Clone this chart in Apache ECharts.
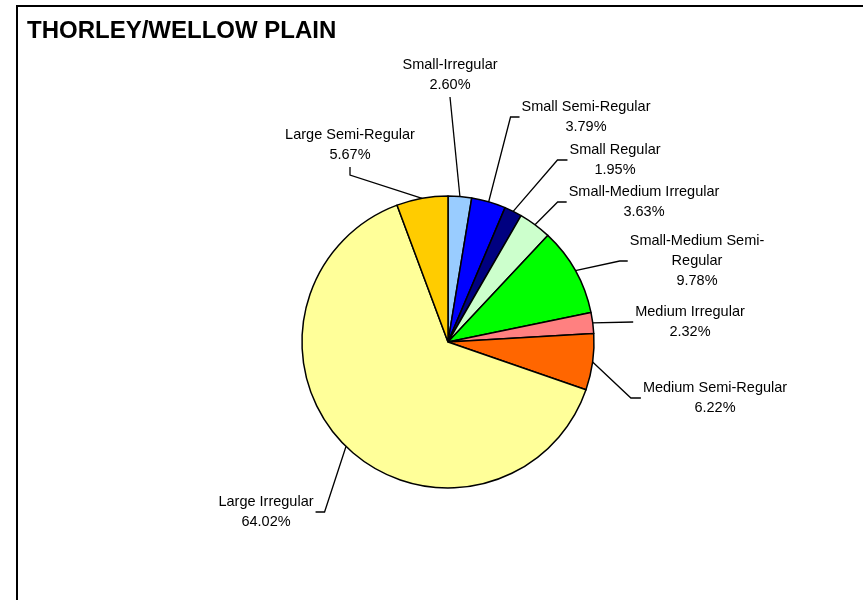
<!DOCTYPE html>
<html><head><meta charset="utf-8">
<script src="https://cdn.jsdelivr.net/npm/echarts@6/dist/echarts.min.js"></script>
<style>html,body{margin:0;padding:0;background:#fff}#c{width:863px;height:600px}</style>
</head><body><div id="c"></div>
<script>
const categories = ['Small-Irregular','Small Semi-Regular','Small Regular','Small-Medium Irregular','Small-Medium Semi-Regular','Medium Irregular','Medium Semi-Regular','Large Irregular','Large Semi-Regular'];
const labelNames = ['Small-Irregular','Small Semi-Regular','Small Regular','Small-Medium Irregular','Small-Medium Semi-\nRegular','Medium Irregular','Medium Semi-Regular','Large Irregular','Large Semi-Regular'];
const percents = [2.60, 3.79, 1.95, 3.63, 9.78, 2.32, 6.22, 64.02, 5.67];
const colors = ['#99CCFF','#0000FF','#000080','#CCFFCC','#00FF00','#FF8080','#FF6600','#FFFF99','#FFCC00'];
// label block centres and leader-line attachment side (layout only)
const labelCenters = [[450,75],[586,117],[615,160],[644,202],[697,261],[690,322],[715,398],[266,512],[350,145]];
const labelSides = ['bottom','left','left','left','left','left','left','right','bottom'];
const elbows = [0, 9, 10, 9, 8, 0, 10, 9, 8];

const chart = echarts.init(document.getElementById('c'), null, {renderer:'canvas'});
chart.setOption({
  backgroundColor: '#fff',
  animation: false,
  title: {
    text: 'THORLEY/WELLOW PLAIN', left: 27, top: 19, padding: 0,
    textStyle: {fontFamily: 'Liberation Sans, Arial, sans-serif', fontSize: 24, fontWeight: 'bold', color: '#000'}
  },
  graphic: [{
    type: 'rect', shape: {x: 17, y: 6, width: 900, height: 700}, silent: true,
    style: {fill: 'none', stroke: '#000', lineWidth: 2}, z: 100
  }],
  series: [{
    type: 'pie',
    center: [448, 342],
    radius: 146,
    startAngle: 90,
    clockwise: true,
    avoidLabelOverlap: false,
    itemStyle: {borderColor: '#000', borderWidth: 1.5},
    label: {
      show: true, position: 'outside',
      fontFamily: 'Liberation Sans, Arial, sans-serif', fontSize: 14.5, lineHeight: 20, color: '#000',
      formatter: p => labelNames[p.dataIndex] + '\n' + percents[p.dataIndex].toFixed(2) + '%'
    },
    labelLine: {show: true, length: 10, length2: 8, lineStyle: {color: '#000', width: 1.3}},
    labelLayout: function (params) {
      const i = params.dataIndex;
      const c = labelCenters[i];
      const w = params.labelRect.width, h = params.labelRect.height;
      const start = params.labelLinePoints ? params.labelLinePoints[0] : [448, 342];
      const side = labelSides[i], e = elbows[i];
      let end, mid;
      if (side === 'left') { end = [c[0] - w / 2 - 2, c[1]]; mid = [end[0] - e, end[1]]; }
      else if (side === 'right') { end = [c[0] + w / 2 + 2, c[1]]; mid = [end[0] + e, end[1]]; }
      else { end = [c[0], c[1] + h / 2 + 2]; mid = [end[0], end[1] + e]; }
      return {x: c[0], y: c[1], align: 'center', verticalAlign: 'middle', labelLinePoints: [start, mid, end]};
    },
    emphasis: {disabled: true},
    data: categories.map((n, i) => ({name: n, value: percents[i], itemStyle: {color: colors[i]}}))
  }]
});
</script></body></html>
